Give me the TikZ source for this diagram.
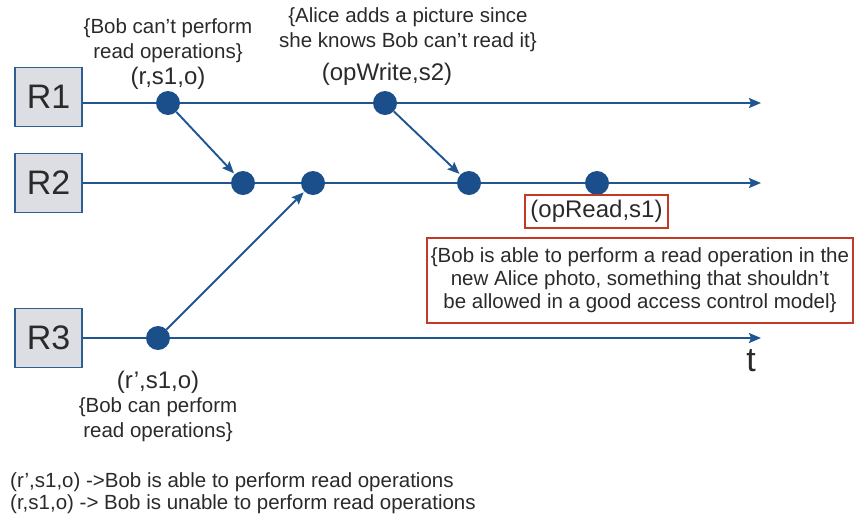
\documentclass[tikz,border=0pt]{standalone}
\usepackage{fontspec}
\setmainfont{Liberation Sans}
\usetikzlibrary{arrows.meta}
\definecolor{lineblue}{HTML}{1F5591}
\definecolor{dotblue}{HTML}{1A4F8B}
\definecolor{boxgray}{HTML}{DCDEE3}
\definecolor{boxedge}{HTML}{2E5E92}
\definecolor{alert}{HTML}{C23A24}
\definecolor{ink}{HTML}{2A2A2A}
\newcommand{\fs}[2]{\fontsize{#1}{#2}\selectfont}
\tikzset{
  replica/.style={draw=boxedge, line width=1.6pt, fill=boxgray, minimum width=67pt,
    minimum height=59pt, inner sep=0pt, font=\fs{34}{36}, text=ink},
  event/.style={circle, fill=dotblue, minimum size=24pt, inner sep=0pt},
  timeline/.style={draw=lineblue, line width=1.9pt, -{Stealth[length=12pt,width=10pt,inset=2pt]}},
  msg/.style={draw=lineblue, line width=1.9pt, -{Stealth[length=12pt,width=10pt,inset=2pt]}, shorten >=1pt},
  note/.style={align=center, font=\fs{20.5}{25}, text=ink, inner sep=0pt},
  tag/.style={font=\fs{24}{28}, text=ink, inner sep=0pt},
  warnbox/.style={draw=alert, line width=1.4pt, align=center, text=ink}
}
\begin{document}
\begin{tikzpicture}[x=1pt,y=-1pt]
\useasboundingbox (0,0) rectangle (854,520);

% replicas
\node[replica] (r1) at (48.5,97) {R1};
\node[replica] (r2) at (48.5,183) {R2};
\node[replica] (r3) at (48.5,338) {R3};

% time axes ends
\coordinate (e1) at (761,103);
\coordinate (e2) at (761,183);
\coordinate (e3) at (761,338);

\draw[timeline] (r1.east |- e1) -- (e1);
\draw[timeline] (r2.east |- e2) -- (e2);
\draw[timeline] (r3.east |- e3) -- (e3);

% events
\node[event] (a1) at (168,103) {};
\node[event] (a2) at (385,103) {};
\node[event] (b1) at (243,183) {};
\node[event] (b2) at (313,183) {};
\node[event] (b3) at (469,183) {};
\node[event] (b4) at (597,183) {};
\node[event] (c1) at (158,338) {};

% messages between replicas
\draw[msg] (a1) -- (b1);
\draw[msg] (c1) -- (b2);
\draw[msg] (a2) -- (b3);

% labels on R1
\node[note] (n1) at (168,41) {\{Bob can’t perform\\read operations\}};
\node[tag] (l1) at (168,78) {(r,s1,o)};
\node[note] (n2) at (408,30) {\{Alice adds a picture since\\she knows Bob can’t read it\}};
\node[tag] (l2) at (387,74) {(opWrite,s2)};

% labels on R2
\node[tag, draw=alert, line width=1.4pt, minimum width=143pt, minimum height=33pt] (l3) at (596.5,211.5) {(opRead,s1)};
\node[warnbox, note, font=\fs{20.5}{23}, draw=alert, line width=1.4pt, minimum width=426pt, minimum height=85pt] (w) at (640,280.5)
  {\{Bob is able to perform a read operation in the\\new Alice photo, something that shouldn’t\\be allowed in a good access control model\}};

% labels on R3
\node[tag] (l4) at (158,382) {(r’,s1,o)};
\node[note] (n3) at (158,420) {\{Bob can perform\\read operations\}};

% time label
\node[font=\fs{34}{36}, text=ink, inner sep=0pt] (t) at (751,361) {t};

% legend
\node[note, align=left, anchor=west, font=\fs{20.5}{22}] (leg) at (10,493)
  {(r’,s1,o) ->Bob is able to perform read operations\\(r,s1,o) -> Bob is unable to perform read operations};
\end{tikzpicture}
\end{document}
